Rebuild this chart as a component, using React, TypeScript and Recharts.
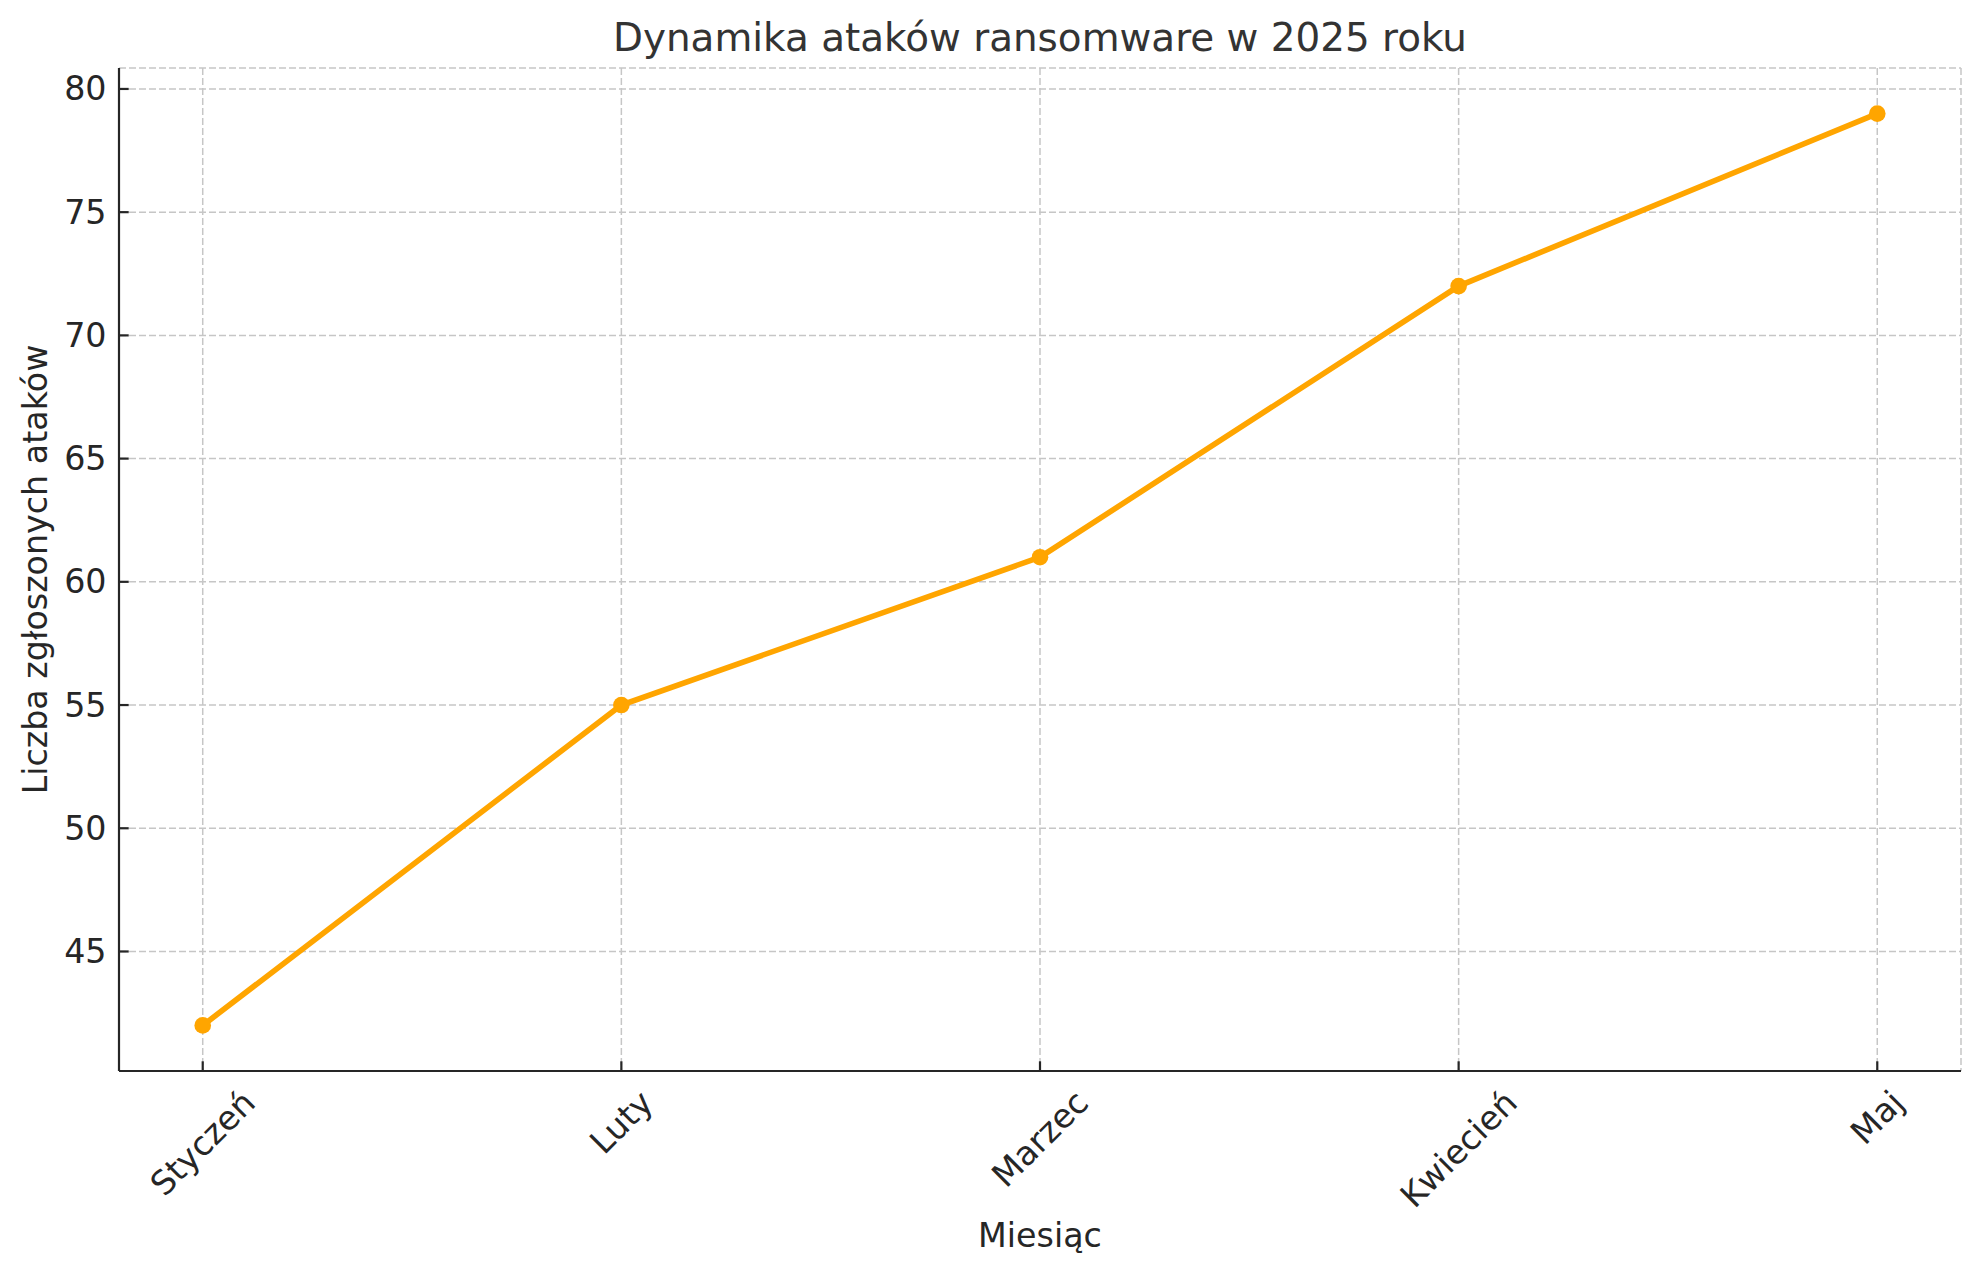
import React from "react";
import {
  LineChart,
  Line,
  XAxis,
  YAxis,
  CartesianGrid,
} from "recharts";

const months = ["Styczeń", "Luty", "Marzec", "Kwiecień", "Maj"];
const attacks = [42, 55, 61, 72, 79];
const yTicks = [45, 50, 55, 60, 65, 70, 75, 80];
const xTicks = [0, 1, 2, 3, 4];

const W = 1979;
const H = 1273;
const PLOT_LEFT = 119;
const PLOT_TOP = 68;
const PLOT_RIGHT = 1961;
const PLOT_BOTTOM = 1071;

const FONT = "'DejaVu Sans', sans-serif";
const TICK_FS = 33.3;
const LABEL_FS = 33.3;
const TITLE_FS = 38.9;
const INK = "#262626";
const ORANGE = "#ffa500";

const data = months.map((m, i) => ({ idx: i, month: m, value: attacks[i] }));

let measureCtx: CanvasRenderingContext2D | null = null;
function textWidth(s: string, size: number) {
  if (!measureCtx) {
    const c = document.createElement("canvas");
    measureCtx = c.getContext("2d");
  }
  if (!measureCtx) return s.length * size * 0.6;
  measureCtx.font = `${size}px 'DejaVu Sans'`;
  return measureCtx.measureText(s).width;
}

const XTick = (props: any) => {
  const { x, y, payload } = props;
  const label = months[payload.value] ?? "";
  const w = textWidth(label, TICK_FS);
  const half = (w + 1.164 * TICK_FS) * 0.3536;
  const cy = y + 12 + half;
  return (
    <g>
      <line x1={x} y1={y} x2={x} y2={y - 9.7} stroke={INK} strokeWidth={2.2} />
      <text
        x={x}
        y={cy}
        textAnchor="middle"
        dominantBaseline="central"
        transform={`rotate(-45, ${x}, ${cy})`}
        fontFamily={FONT}
        fontSize={TICK_FS}
        fill={INK}
      >
        {label}
      </text>
    </g>
  );
};

const YTick = (props: any) => {
  const { x, y, payload } = props;
  return (
    <g>
      <line x1={x} y1={y} x2={x + 9.7} y2={y} stroke={INK} strokeWidth={2.2} />
      <text
        x={x - 12.5}
        y={y}
        textAnchor="end"
        dominantBaseline="central"
        fontFamily={FONT}
        fontSize={TICK_FS}
        fill={INK}
      >
        {payload.value}
      </text>
    </g>
  );
};

export default function App() {
  const cx = (PLOT_LEFT + PLOT_RIGHT) / 2;
  const cy = (PLOT_TOP + PLOT_BOTTOM) / 2;
  return (
    <div style={{ position: "absolute", left: 0, top: 0, width: W, height: H, background: "#fff" }}>
      <LineChart
        width={W}
        height={H}
        data={data}
        margin={{ top: PLOT_TOP, right: W - PLOT_RIGHT, bottom: 0, left: 0 }}
      >
        <CartesianGrid
          stroke="#c6c6c6"
          strokeWidth={1.5}
          strokeDasharray="7 3"
        />
        <XAxis
          dataKey="idx"
          type="number"
          domain={[-0.2, 4.2]}
          ticks={xTicks}
          allowDataOverflow
          height={H - PLOT_BOTTOM}
          axisLine={{ stroke: INK, strokeWidth: 2.2 }}
          tickLine={false}
          tickSize={0}
          tickMargin={0}
          tick={<XTick />}
          interval={0}
        />
        <YAxis
          type="number"
          domain={[40.15, 80.85]}
          ticks={yTicks}
          allowDataOverflow
          width={PLOT_LEFT}
          axisLine={{ stroke: INK, strokeWidth: 2.2 }}
          tickLine={false}
          tickSize={0}
          tickMargin={0}
          tick={<YTick />}
          interval={0}
        />
        <Line
          type="linear"
          dataKey="value"
          stroke={ORANGE}
          strokeWidth={5.6}
          dot={{ r: 8.3, fill: ORANGE, stroke: "none" }}
          activeDot={false}
          isAnimationActive={false}
        />
      </LineChart>
      <svg
        width={W}
        height={H}
        style={{ position: "absolute", left: 0, top: 0, pointerEvents: "none" }}
      >
        <text
          x={cx}
          y={51}
          textAnchor="middle"
          fontFamily={FONT}
          fontSize={TITLE_FS}
          fill="#333333"
        >
          Dynamika ataków ransomware w 2025 roku
        </text>
        <text
          x={cx}
          y={1247}
          textAnchor="middle"
          fontFamily={FONT}
          fontSize={LABEL_FS}
          fill={INK}
        >
          Miesiąc
        </text>
        <text
          x={47}
          y={cy}
          textAnchor="middle"
          transform={`rotate(-90, 47, ${cy})`}
          fontFamily={FONT}
          fontSize={LABEL_FS}
          fill={INK}
        >
          Liczba zgłoszonych ataków
        </text>
      </svg>
    </div>
  );
}
